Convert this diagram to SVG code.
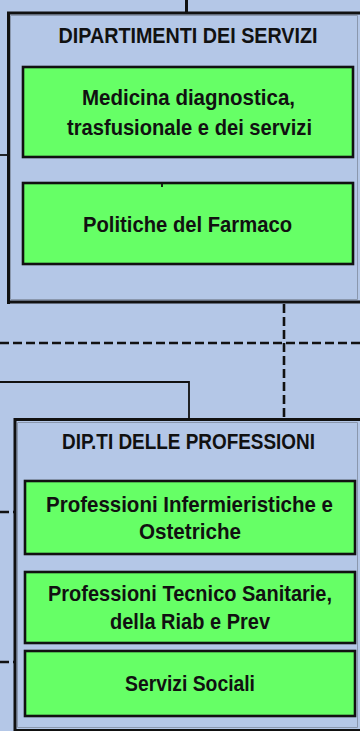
<svg xmlns="http://www.w3.org/2000/svg" width="360" height="731" viewBox="0 0 360 731">
<style>
.bg{fill:#B4C7E7}
.inner{fill:#66FF66;stroke:#111;stroke-width:2.6}
.sh{fill:none;stroke:#111;stroke-width:3}
.gl{fill:none;stroke:#8a97ad;stroke-width:1}
.t{font-family:"Liberation Sans",Arial,sans-serif;font-weight:bold;font-size:22px;fill:#111;text-anchor:middle}
.solid{fill:none;stroke:#111;stroke-width:1.8}
.thick{fill:none;stroke:#111;stroke-width:3}
.dash{fill:none;stroke:#111;stroke-width:2.6;stroke-dasharray:9 4}
</style>
<rect class="bg" x="0" y="0" width="360" height="731"/>
<g id="connectors">
<line class="thick" x1="186.5" y1="0" x2="186.5" y2="13"/>
<line class="solid" x1="0" y1="155" x2="9" y2="155"/>
<line class="dash" x1="0" y1="343" x2="360" y2="343"/>
<line class="dash" x1="284" y1="304" x2="284" y2="418"/>
<polyline class="solid" points="0,382 189,382 189,419"/>
<line class="dash" x1="0" y1="512" x2="15" y2="512"/>
<line class="dash" x1="0" y1="662" x2="15" y2="662"/>
</g>
<g id="dip-servizi">
<rect class="bg" x="9" y="13" width="352" height="289"/>
<polyline class="gl" points="10.5,15.5 357.5,15.5 357.5,299.5 10.5,299.5 10.5,15.5"/>
<polyline class="sh" points="8.5,304 8.5,13 361,13"/>
<line class="sh" x1="7" y1="302" x2="361" y2="302"/>
<text class="t" x="188" y="43" textLength="259" lengthAdjust="spacingAndGlyphs">DIPARTIMENTI DEI SERVIZI</text>
</g>
<g id="medicina">
<rect class="inner" x="23" y="67" width="330" height="90"/>
<text class="t" x="188.5" y="105" textLength="213" lengthAdjust="spacingAndGlyphs">Medicina diagnostica,</text>
<text class="t" x="189.5" y="135" textLength="245" lengthAdjust="spacingAndGlyphs">trasfusionale e dei servizi</text>
</g>
<g id="farmaco">
<rect class="inner" x="23" y="183" width="330" height="81"/>
<line class="solid" x1="162" y1="183" x2="162" y2="187"/>
<text class="t" x="187.5" y="232" textLength="209" lengthAdjust="spacingAndGlyphs">Politiche del Farmaco</text>
</g>
<g id="dip-professioni">
<rect class="bg" x="15" y="419" width="346" height="312"/>
<polyline class="gl" points="17.5,422.5 357.5,422.5 357.5,727.5 17.5,727.5 17.5,422.5"/>
<polyline class="sh" points="15,731 15,419.5 361,419.5"/>
<line class="sh" x1="14" y1="730.5" x2="361" y2="730.5"/>
<text class="t" x="188.5" y="449" textLength="253" lengthAdjust="spacingAndGlyphs">DIP.TI DELLE PROFESSIONI</text>
</g>
<g id="infermieristiche">
<rect class="inner" x="25" y="481" width="330" height="73"/>
<text class="t" x="189.5" y="512" textLength="287" lengthAdjust="spacingAndGlyphs">Professioni  Infermieristiche e</text>
<text class="t" x="190" y="539" textLength="102" lengthAdjust="spacingAndGlyphs">Ostetriche</text>
</g>
<g id="tecnico">
<rect class="inner" x="25" y="572" width="330" height="71"/>
<text class="t" x="190" y="601" textLength="284" lengthAdjust="spacingAndGlyphs">Professioni Tecnico Sanitarie,</text>
<text class="t" x="190" y="629" textLength="160" lengthAdjust="spacingAndGlyphs">della Riab e Prev</text>
</g>
<g id="sociali">
<rect class="inner" x="25" y="651" width="330" height="65"/>
<text class="t" x="190" y="691" textLength="130" lengthAdjust="spacingAndGlyphs">Servizi Sociali</text>
</g>
</svg>
